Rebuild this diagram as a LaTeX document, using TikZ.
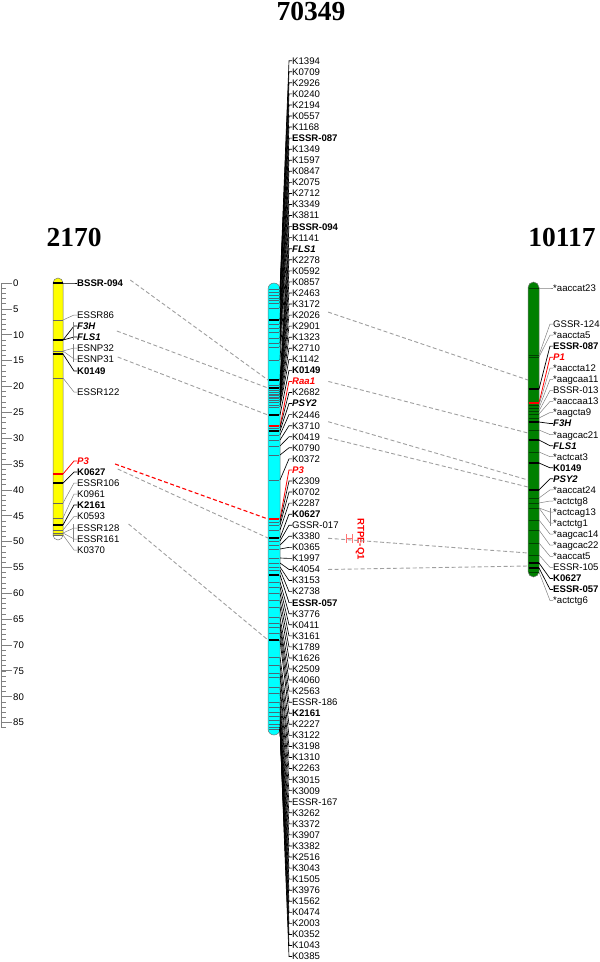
\documentclass[tikz,border=0pt]{standalone}
\usepackage{fontspec}
\setmainfont{Liberation Sans}
\newfontfamily\titlefont{Liberation Serif}
\usepackage{tikz}
\usetikzlibrary{calc}
\definecolor{chryellow}{RGB}{255,255,0}
\definecolor{chrcyan}{RGB}{0,255,255}
\definecolor{chrgreen}{RGB}{0,128,0}
\newcommand{\labfont}{\fontsize{9.6}{11}\selectfont}

\begin{document}
\begin{tikzpicture}[
    x=1pt, y=-1pt,
    lab/.style={anchor=west, inner sep=0pt, text height=6.8pt, text depth=0pt, font=\labfont},
    labn/.style={lab},
    labb/.style={lab, font=\labfont\bfseries},
    labi/.style={lab, font=\labfont\bfseries\itshape},
    labr/.style={labi, text=red},
    conn/.style={gray, line width=0.5pt},
    conb/.style={black, line width=0.7pt},
    coni/.style={conb},
    conr/.style={red, line width=0.8pt},
    mkn/.style={black!60, line width=0.5pt},
    mkb/.style={black, line width=1.2pt},
    mki/.style={mkb},
    mkr/.style={red, line width=1.2pt},
    chrom/.style={draw=black!55, line width=0.5pt},
    homol/.style={gray!75, line width=0.9pt, dash pattern=on 4pt off 2.5pt},
    qtlline/.style={homol, red, line width=1.1pt},
    title/.style={font=\titlefont\bfseries\fontsize{27.5}{30}\selectfont, inner sep=0pt, text height=18.6pt, text depth=0pt}
]
\useasboundingbox (0,0) rectangle (600,962);

% Titles
\node[title] (t2170) at (74,237.5) {2170};
\node[title] (t70349) at (311,11.5) {70349};
\node[title] (t10117) at (562,237.5) {10117};

% cM scale
\draw[gray, line width=0.8pt] (1,283) -- (1,728);
\foreach \c in {0,...,86}
  \draw[gray, line width=0.5pt] (1,{283+5.17*\c}) -- ++(5,0);
\foreach \c in {0,5,...,85} {
  \draw[gray, line width=0.6pt] (1,{283+5.17*\c}) -- ++(11,0);
  \node[labn] (cm\c) at (13,{283+5.17*\c}) {\c};
}

% Chromosome 2170
\draw[chrom, fill=chryellow] (53,535) -- (53,283) arc[start angle=180, end angle=360, radius=5] -- (63,535) -- cycle;
\draw[chrom, fill=white] (53,535) arc[start angle=180, end angle=0, radius=5] -- cycle;
\foreach \lab/\t/\ly/\my in {BSSR-094/b/283/283, ESSR86/n/315/320, F3H/i/326/340, FLS1/i/337/340,
    ESNP32/n/348/351, ESNP31/n/359/351, K0149/b/371/354, ESSR122/n/392/378,
    P3/r/461/474, K0627/b/472/483, ESSR106/n/483/503, K0961/n/494/518, K2161/b/505/525,
    K0593/n/516.5/530, ESSR128/n/528/533, ESSR161/n/539/533, K0370/n/550/535} {
  \draw[style=mk\t] (53,\my) -- (63,\my);
  \coordinate (a-\lab-m) at (63,\my);
  \node[style=lab\t] (a-\lab) at (77,\ly) {\lab};
  \draw[style=con\t] (a-\lab-m) -- ([xshift=-3pt]a-\lab.west) -- (a-\lab.west);
}
\draw[conn] ([shift={(-4,-4)}]a-F3H.west) -- ([shift={(-4,3)}]a-FLS1.west);
\draw[conn] ([shift={(-4,-4)}]a-ESNP32.west) -- ([shift={(-4,3)}]a-ESNP31.west);
\draw[conn] ([shift={(-4,-4)}]a-ESSR128.west) -- ([shift={(-4,3)}]a-ESSR161.west);

% Chromosome 70349
\begin{scope}[mkn/.style={cyan!40!black, line width=0.5pt},
    conn/.style={black, line width=0.65pt}, conb/.style={black, line width=0.7pt}]
\draw[chrom, fill=chrcyan, rounded corners=6] (268,283) rectangle (280,735);
\foreach \lab/\t/\my [count=\i] in {K1394/n/289, K0709/n/292, K2926/n/295, K0240/n/298, K2194/n/300,
    K0557/n/303, K1168/n/308, ESSR-087/b/320, K1349/n/324, K1597/n/328, K0847/n/332, K2075/n/338,
    K2712/n/343, K3349/n/347, K3811/n/360, BSSR-094/b/380, K1141/n/385, FLS1/i/388, K2278/n/390,
    K0592/n/392, K0857/n/394, K2463/n/395, K3172/n/397, K2026/n/398, K2901/n/400, K1323/n/402,
    K2710/n/405, K1142/n/407, K0149/b/415, Raa1/r/426, K2682/n/428, PSY2/i/431, K2446/n/435,
    K3710/n/440, K0419/n/446, K0790/n/455, K0372/n/480, P3/r/519, K2309/n/522, K0702/n/525,
    K2287/n/530, K0627/b/538, GSSR-017/n/541, K3380/n/545, K0365/n/549, K1997/n/558, K4054/n/563,
    K3153/n/567, K2738/n/570, ESSR-057/b/575, K3776/n/582, K0411/n/587, K3161/n/593, K1789/n/600,
    K1626/n/607, K2509/n/617, K4060/n/623, K2563/n/627, ESSR-186/n/633, K2161/b/640, K2227/n/657,
    K3122/n/665, K3198/n/673, K1310/n/677, K2263/n/687, K3015/n/693, K3009/n/702, ESSR-167/n/707,
    K3262/n/712, K3372/n/716, K3907/n/720, K3382/n/724, K2516/n/724, K3043/n/727, K1505/n/727,
    K3976/n/727, K1562/n/729, K0474/n/729, K2003/n/729, K0352/n/729, K1043/n/729, K0385/n/729} {
  \pgfmathsetmacro\ly{60.7+(\i-1)*11.06}
  \draw[style=mk\t] (269,\my) -- (279,\my);
  \coordinate (b-\lab-l) at (268,\my);
  \coordinate (b-\lab-m) at (280,\my);
  \node[style=lab\t] (b-\lab) at (292,\ly) {\lab};
  \draw[style=con\t] (b-\lab-m) -- ([xshift=-3pt]b-\lab.west) -- (b-\lab.west);
}
\end{scope}

% QTL
\node[rotate=-90, font=\labfont\bfseries, text=red, inner sep=0pt] (rtpe) at (360,539) {RTPE-Q1};
\draw[red!55, line width=0.6pt] (346,534) -- (346,543) (352,534) -- (352,543) (346,538.5) -- (352,538.5);

% Chromosome 10117
\begin{scope}[mkn/.style={green!25!black, line width=0.5pt}]
\draw[chrom, fill=chrgreen, rounded corners=5.5] (528,282) rectangle (539,577);
\foreach \nm/\lab/\t/\ly/\my in {aaccat23/*aaccat23/n/288/288, GSSR-124/GSSR-124/n/324/355,
    aaccta5/*aaccta5/n/335.1/357, ESSR-087/ESSR-087/b/346.1/389, P1/P1/r/357.2/403,
    aaccta12/*aaccta12/n/368.2/405, aagcaa11/*aagcaa11/n/379.3/408, BSSR-013/BSSR-013/n/390.4/411,
    aaccaa13/*aaccaa13/n/401.4/414, aagcta9/*aagcta9/n/412.5/418, F3H/F3H/i/423.5/422,
    aagcac21/*aagcac21/n/434.6/430, FLS1/FLS1/i/445.7/440, actcat3/*actcat3/n/456.7/452,
    K0149/K0149/b/467.8/463, PSY2/PSY2/i/478.8/490, aaccat24/*aaccat24/n/489.9/498,
    actctg8/*actctg8/n/501/503, actcag13/*actcag13/n/512/508, actctg1/*actctg1/n/523.1/508,
    aagcac14/*aagcac14/n/534.1/520, aagcac22/*aagcac22/n/545.2/530, aaccat5/*aaccat5/n/556.3/543,
    ESSR-105/ESSR-105/n/567.3/555, K0627/K0627/b/578.4/563, ESSR-057/ESSR-057/b/589.4/568,
    actctg6/*actctg6/n/600.5/572} {
  \draw[style=mk\t] (528.5,\my) -- (538.5,\my);
  \coordinate (c-\nm-m) at (539,\my);
  \node[style=lab\t] (c-\nm) at (553,\ly) {\lab};
  \draw[style=con\t] (c-\nm-m) -- ([xshift=-3pt]c-\nm.west) -- (c-\nm.west);
}
\draw[conn] ([shift={(-3,-4)}]c-actcag13.west) -- ([shift={(-3,3)}]c-actctg1.west);
\end{scope}
\coordinate (c-h1) at (528,380);
\coordinate (c-h2) at (528,433);
\coordinate (c-h3) at (528,480);
\coordinate (c-h4) at (528,487);
\coordinate (c-h5) at (528,553);
\coordinate (c-h6) at (528,566);

% Homologous loci 2170 - 70349
\draw[homol] ($(a-BSSR-094.east)+(7,-3)$) -- (b-BSSR-094-l);
\draw[homol] ($(a-FLS1.east)+(16,-6)$) -- (b-FLS1-l);
\draw[homol] ($(a-K0149.east)+(12,-14)$) -- (b-K0149-l);
\draw[qtlline] ($(a-P3.east)+(26,3)$) -- (b-P3-l);
\draw[homol] ($(a-K0627.east)+(12,-3)$) -- (b-K0627-l);
\draw[homol] ($(a-ESSR128.east)+(9,-4)$) -- (b-K2161-l);

% Homologous loci 70349 - 10117
\draw[homol] ($(b-K2026.east)+(8,-3)$) -- (c-h1);
\draw[homol] ($(b-Raa1.east)+(13,0)$) -- (c-h2);
\draw[homol] ($(b-K3710.east)+(8,-4)$) -- (c-h3);
\draw[homol] ($(b-K0419.east)+(8,1)$) -- (c-h4);
\draw[homol] ($(b-K3380.east)+(8,2)$) -- (c-h5);
\draw[homol] ($(b-K4054.east)+(8,0)$) -- (c-h6);
\end{tikzpicture}
\end{document}
